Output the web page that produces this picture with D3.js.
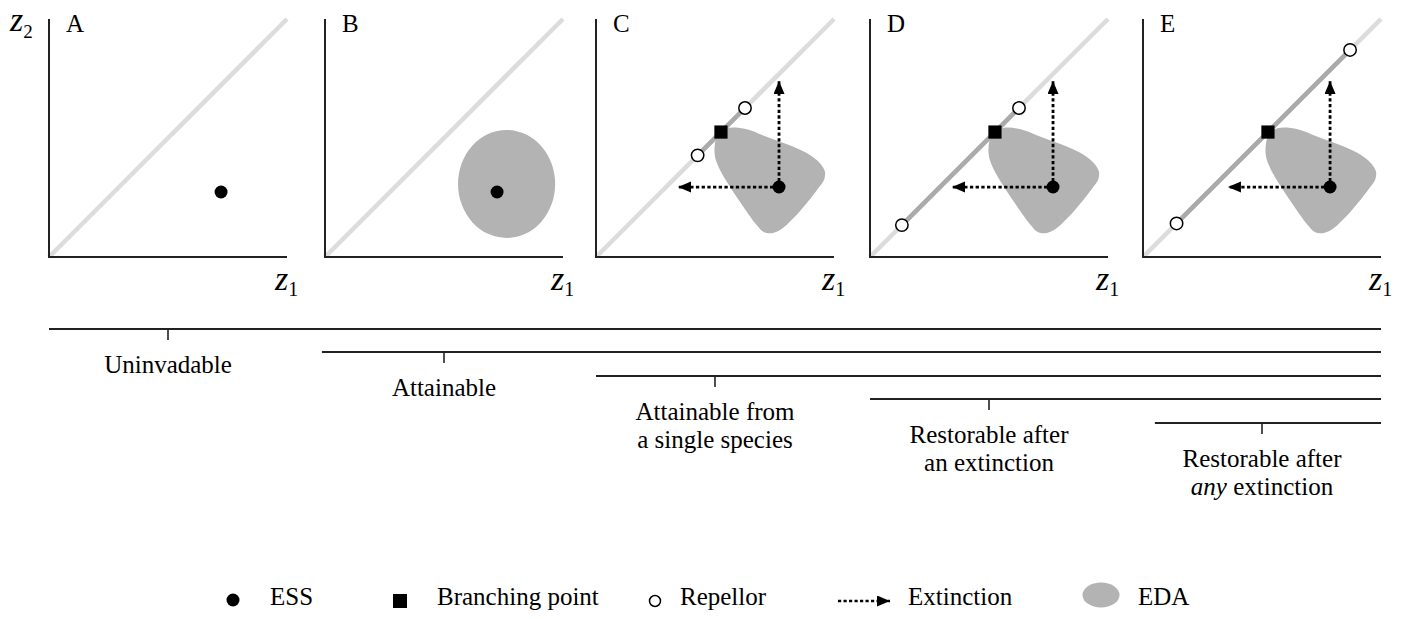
<!DOCTYPE html>
<html><head><meta charset="utf-8">
<script src="https://cdn.jsdelivr.net/npm/d3@7"></script>
<style>html,body{margin:0;padding:0;background:#fff}svg{display:block}</style>
</head><body>
<script>
// ---------- data ----------
const panelNames = ["A","B","C","D","E"];
const essX = [0.723, 0.723, 0.769, 0.769, 0.786];
const essY = [0.273, 0.273, 0.294, 0.294, 0.294];
const branchPoint = [null, null, 0.525, 0.525, 0.525];
const repellorLow = [null, null, 0.427, 0.134, 0.141];
const repellorHigh = [null, null, 0.626, 0.626, 0.870];
const extinctionX = [null, null, 0.345, 0.345, 0.357];
const extinctionY = [null, null, 0.740, 0.740, 0.740];
const edaEllipseB = [0.763, 0.307, 0.204, 0.227]; // cx, cy, rx, ry
const edaBlobX = [0.549,0.633,0.717,0.829,0.899,0.941,0.962,0.958,0.934,0.885,0.829,0.773,0.738,0.703,0.675,0.619,0.563,0.521,0.500,0.500,0.514];
const edaBlobY = [0.541,0.537,0.505,0.463,0.429,0.394,0.358,0.324,0.289,0.226,0.163,0.113,0.100,0.106,0.134,0.211,0.295,0.366,0.421,0.478,0.520];
const edaPanels = [false, true, true, true, true];

const bracketLabels = [["Uninvadable"],["Attainable"],["Attainable from","a single species"],["Restorable after","an extinction"],["Restorable after","any extinction"]];
const bracketStart = [0, -0.013, 0, 0, 0.05];
const bracketTick = [0.5, 0.5, 0.5, 0.5, 0.5];

const legendLabels = ["ESS","Branching point","Repellor","Extinction","EDA"];

// ---------- layout ----------
const W = 1410, H = 619;
const panelLeft = [49, 325, 596, 870, 1143];
const PW = 238, yTop = 19, yBot = 257;
const AX = "#222";
const FONT = "Liberation Serif";

const svg = d3.select("body").append("svg").attr("width", W).attr("height", H)
  .attr("font-family", FONT);

const defs = svg.append("defs");
defs.append("marker").attr("id","ah").attr("markerUnits","userSpaceOnUse")
  .attr("markerWidth",14).attr("markerHeight",12).attr("refX",13).attr("refY",5.5)
  .attr("orient","auto")
  .append("path").attr("d","M0,0 L13,5.5 L0,11 Z").attr("fill","#000");

const y = d3.scaleLinear().domain([0,1]).range([yBot, yTop]);
const xs = panelLeft.map(l => d3.scaleLinear().domain([0,1]).range([l, l + PW]));

function txt(sel) { return sel.append("text").attr("font-family", FONT).attr("fill", "#000"); }

panelNames.forEach((name, i) => {
  const x = xs[i];
  const g = svg.append("g");
  g.append("line").attr("x1", x(0)).attr("y1", y(0)).attr("x2", x(1)).attr("y2", y(1))
    .attr("stroke","#dcdcdc").attr("stroke-width",4.5);
  if (repellorLow[i] != null) {
    g.append("line").attr("x1", x(repellorLow[i])).attr("y1", y(repellorLow[i]))
      .attr("x2", x(repellorHigh[i])).attr("y2", y(repellorHigh[i]))
      .attr("stroke","#aaaaaa").attr("stroke-width",4.5);
  }
  if (i === 1) {
    g.append("ellipse").attr("cx", x(edaEllipseB[0])).attr("cy", y(edaEllipseB[1]))
      .attr("rx", x(edaEllipseB[0]+edaEllipseB[2]) - x(edaEllipseB[0]))
      .attr("ry", y(edaEllipseB[1]) - y(edaEllipseB[1]+edaEllipseB[3]))
      .attr("fill","#b3b3b3");
  } else if (edaPanels[i]) {
    const dx = essX[i] - essX[2];
    const pts = edaBlobX.map((v, k) => [x(v + dx), y(edaBlobY[k])]);
    g.append("path").attr("d", d3.line().curve(d3.curveCatmullRomClosed.alpha(0.5))(pts))
      .attr("fill","#b3b3b3");
  }
  g.append("line").attr("x1", x(0)).attr("y1", y(1)).attr("x2", x(0)).attr("y2", y(0))
    .attr("stroke",AX).attr("stroke-width",2);
  g.append("line").attr("x1", x(0)-1).attr("y1", y(0)).attr("x2", x(1)).attr("y2", y(0))
    .attr("stroke",AX).attr("stroke-width",2);
  if (extinctionX[i] != null) {
    g.append("line").attr("x1", x(essX[i])).attr("y1", y(essY[i]))
      .attr("x2", x(extinctionX[i])).attr("y2", y(essY[i]))
      .attr("stroke","#000").attr("stroke-width",2.8).attr("stroke-dasharray","3.3,2.4")
      .attr("marker-end","url(#ah)");
    g.append("line").attr("x1", x(essX[i])).attr("y1", y(essY[i]))
      .attr("x2", x(essX[i])).attr("y2", y(extinctionY[i]))
      .attr("stroke","#000").attr("stroke-width",2.8).attr("stroke-dasharray","3.3,2.4")
      .attr("marker-end","url(#ah)");
  }
  if (repellorLow[i] != null) {
    [repellorLow[i], repellorHigh[i]].forEach(v => {
      g.append("circle").attr("cx", x(v)).attr("cy", y(v)).attr("r", 6.2)
        .attr("fill","#fff").attr("stroke","#000").attr("stroke-width",1.5);
    });
  }
  if (branchPoint[i] != null) {
    g.append("rect").attr("x", x(branchPoint[i]) - 6.6).attr("y", y(branchPoint[i]) - 6.6)
      .attr("width", 13.2).attr("height", 13.2).attr("fill","#000");
  }
  g.append("circle").attr("cx", x(essX[i])).attr("cy", y(essY[i])).attr("r", 6.5).attr("fill","#000");
  txt(g).attr("x", x(0) + 17).attr("y", 32).attr("font-size", 25).text(name);
  const t1 = txt(g).attr("x", x(0) + 226).attr("y", 290);
  t1.append("tspan").attr("font-style","italic").attr("font-size",34).text("z");
  t1.append("tspan").attr("font-size",20).attr("dy",6).text("1");
  if (i === 0) {
    const t2 = txt(g).attr("x", 10).attr("y", 31);
    t2.append("tspan").attr("font-style","italic").attr("font-size",34).text("z");
    t2.append("tspan").attr("font-size",19).attr("dy",7).text("2");
  }
});

// ---------- brackets ----------
const lineY = [329, 352, 376, 399, 423];
const endX = xs[4](1);
bracketLabels.forEach((lines, i) => {
  const x = xs[i];
  const x0 = x(bracketStart[i]);
  const tx = x(bracketTick[i]);
  svg.append("line").attr("x1", x0).attr("x2", endX).attr("y1", lineY[i]).attr("y2", lineY[i])
    .attr("stroke",AX).attr("stroke-width",2);
  svg.append("line").attr("x1", tx).attr("x2", tx).attr("y1", lineY[i]).attr("y2", lineY[i] + 11)
    .attr("stroke",AX).attr("stroke-width",1.6);
  lines.forEach((s, k) => {
    const t = txt(svg).attr("x", tx).attr("y", lineY[i] + 44 + k * 28)
      .attr("text-anchor","middle").attr("font-size",25);
    if (s.startsWith("any ")) {
      t.append("tspan").attr("font-style","italic").text("any");
      t.append("tspan").text(" " + s.slice(4));
    } else t.text(s);
  });
});

// ---------- legend ----------
const lg = svg.append("g");
const ly = 601;
lg.append("circle").attr("cx",233).attr("cy",ly-1).attr("r",6.5).attr("fill","#000");
txt(lg).attr("x",270).attr("y",605).attr("font-size",25).text(legendLabels[0]);
lg.append("rect").attr("x",393).attr("y",ly-7).attr("width",14).attr("height",14).attr("fill","#000");
txt(lg).attr("x",437).attr("y",605).attr("font-size",25).text(legendLabels[1]);
lg.append("circle").attr("cx",655).attr("cy",ly).attr("r",5.5).attr("fill","#fff").attr("stroke","#000").attr("stroke-width",1.5);
txt(lg).attr("x",680).attr("y",605).attr("font-size",25).text(legendLabels[2]);
lg.append("line").attr("x1",838).attr("x2",890).attr("y1",ly).attr("y2",ly)
  .attr("stroke","#000").attr("stroke-width",2.6).attr("stroke-dasharray","3.2,2.3").attr("marker-end","url(#ah)");
txt(lg).attr("x",908).attr("y",605).attr("font-size",25).text(legendLabels[3]);
lg.append("ellipse").attr("cx",1101).attr("cy",595).attr("rx",18.5).attr("ry",12.5).attr("fill","#b3b3b3");
txt(lg).attr("x",1138).attr("y",605).attr("font-size",25).text(legendLabels[4]);
</script>
</body></html>
